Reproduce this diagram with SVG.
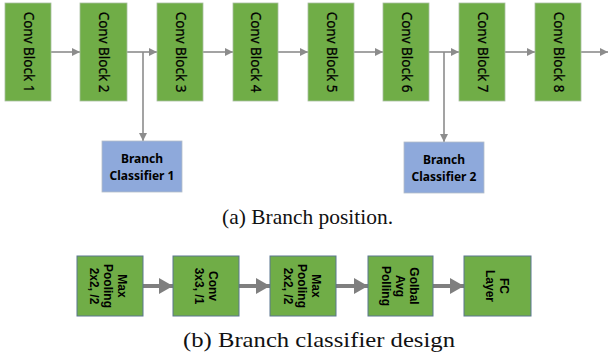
<svg xmlns="http://www.w3.org/2000/svg" width="608" height="356" viewBox="0 0 608 356">
<style>
.blk{fill:#70AD47;stroke:#A9BFA0;stroke-width:0.8}
.cls{fill:#8EA9DB;stroke:#B4BDC9;stroke-width:0.8}
.sb{fill:#70AD47;stroke:#5B7690;stroke-width:1}
.t1{font-family:"Noto Sans",sans-serif;font-size:13.5px;fill:#000;stroke:#000;stroke-width:0.25;text-anchor:middle}
.t2{font-family:"Noto Sans",sans-serif;font-size:12px;font-weight:bold;fill:#000;text-anchor:middle}
.t3{font-family:"Liberation Sans",Arial,sans-serif;font-size:12px;font-weight:bold;fill:#000;text-anchor:middle}
.cap{font-family:"Liberation Serif","Times New Roman",serif;font-size:21px;fill:#111}
.c1{stroke:#8C8C8C;stroke-width:1.6;fill:none}
.c2{stroke:#7F7F7F;stroke-width:4;fill:none}
</style>
<defs>
<marker id="ah" markerWidth="8" markerHeight="8" refX="8" refY="4" orient="auto" markerUnits="userSpaceOnUse">
<path d="M0,0 L8,4 L0,8 Z" fill="#8C8C8C"/>
</marker>
<marker id="ah2" markerWidth="14" markerHeight="16" refX="14" refY="8" orient="auto" markerUnits="userSpaceOnUse">
<path d="M0,0 L14,8 L0,16 Z" fill="#7F7F7F"/>
</marker>
</defs>
<g id="connectors">
<line class="c1" x1="51" y1="52" x2="80" y2="52" marker-end="url(#ah)"/>
<line class="c1" x1="127" y1="52" x2="157" y2="52" marker-end="url(#ah)"/>
<line class="c1" x1="143" y1="52" x2="143" y2="141" marker-end="url(#ah)"/>
<line class="c1" x1="203" y1="52" x2="233" y2="52" marker-end="url(#ah)"/>
<line class="c1" x1="278" y1="52" x2="308" y2="52" marker-end="url(#ah)"/>
<line class="c1" x1="354" y1="52" x2="383" y2="52" marker-end="url(#ah)"/>
<line class="c1" x1="429" y1="52" x2="459" y2="52" marker-end="url(#ah)"/>
<line class="c1" x1="444" y1="52" x2="444" y2="142" marker-end="url(#ah)"/>
<line class="c1" x1="505" y1="52" x2="535" y2="52" marker-end="url(#ah)"/>
<line class="c1" x1="581" y1="52" x2="608" y2="52" marker-end="url(#ah)"/>
<line class="c2" x1="143" y1="286" x2="173" y2="286" marker-end="url(#ah2)"/>
<line class="c2" x1="239" y1="286" x2="270" y2="286" marker-end="url(#ah2)"/>
<line class="c2" x1="336" y1="286" x2="368" y2="286" marker-end="url(#ah2)"/>
<line class="c2" x1="433" y1="286" x2="464" y2="286" marker-end="url(#ah2)"/>
</g>
<g id="conv1"><rect class="blk" x="5" y="3" width="46" height="98"/><text class="t1" transform="translate(28,52) rotate(90)" y="4.5">Conv Block 1</text></g>
<g id="conv2"><rect class="blk" x="80" y="3" width="47" height="98"/><text class="t1" transform="translate(103.5,52) rotate(90)" y="4.5">Conv Block 2</text></g>
<g id="conv3"><rect class="blk" x="157" y="3" width="46" height="98"/><text class="t1" transform="translate(180,52) rotate(90)" y="4.5">Conv Block 3</text></g>
<g id="conv4"><rect class="blk" x="233" y="3" width="45" height="98"/><text class="t1" transform="translate(255.5,52) rotate(90)" y="4.5">Conv Block 4</text></g>
<g id="conv5"><rect class="blk" x="308" y="3" width="46" height="98"/><text class="t1" transform="translate(331,52) rotate(90)" y="4.5">Conv Block 5</text></g>
<g id="conv6"><rect class="blk" x="383" y="3" width="46" height="98"/><text class="t1" transform="translate(406,52) rotate(90)" y="4.5">Conv Block 6</text></g>
<g id="conv7"><rect class="blk" x="459" y="3" width="46" height="98"/><text class="t1" transform="translate(482,52) rotate(90)" y="4.5">Conv Block 7</text></g>
<g id="conv8"><rect class="blk" x="535" y="3" width="46" height="98"/><text class="t1" transform="translate(558,52) rotate(90)" y="4.5">Conv Block 8</text></g>
<g id="branch1"><rect class="cls" x="102" y="141" width="80" height="51"/><text class="t2" x="142" y="163">Branch</text><text class="t2" x="142" y="180">Classifier 1</text></g>
<g id="branch2"><rect class="cls" x="404" y="142" width="80" height="51"/><text class="t2" x="444" y="164">Branch</text><text class="t2" x="444" y="181">Classifier 2</text></g>
<text id="capa" class="cap" x="222" y="224" textLength="171" lengthAdjust="spacingAndGlyphs">(a) Branch position.</text>
<g id="maxpool1"><rect class="sb" x="77" y="256" width="66" height="60"/><g class="t3" transform="translate(108,286) rotate(90)"><text x="0" y="-10">Max</text><text x="0" y="4">Pooling</text><text x="0" y="18">2x2, /2</text></g></g>
<g id="conv"><rect class="sb" x="173" y="256" width="66" height="60"/><g class="t3" transform="translate(206,286) rotate(90)"><text x="0" y="-3">Conv</text><text x="0" y="11">3x3, /1</text></g></g>
<g id="maxpool2"><rect class="sb" x="270" y="256" width="66" height="60"/><g class="t3" transform="translate(302,286) rotate(90)"><text x="0" y="-10">Max</text><text x="0" y="4">Pooling</text><text x="0" y="18">2x2, /2</text></g></g>
<g id="gap"><rect class="sb" x="368" y="256" width="65" height="60"/><g class="t3" transform="translate(400,286) rotate(90)"><text x="0" y="-10">Golbal</text><text x="0" y="4">Avg</text><text x="0" y="18">Polling</text></g></g>
<g id="fc"><rect class="sb" x="464" y="256" width="67" height="60"/><g class="t3" transform="translate(497,286) rotate(90)"><text x="0" y="-3">FC</text><text x="0" y="11">Layer</text></g></g>
<text id="capb" class="cap" x="183" y="347" textLength="272" lengthAdjust="spacingAndGlyphs">(b) Branch classifier design</text>
</svg>
